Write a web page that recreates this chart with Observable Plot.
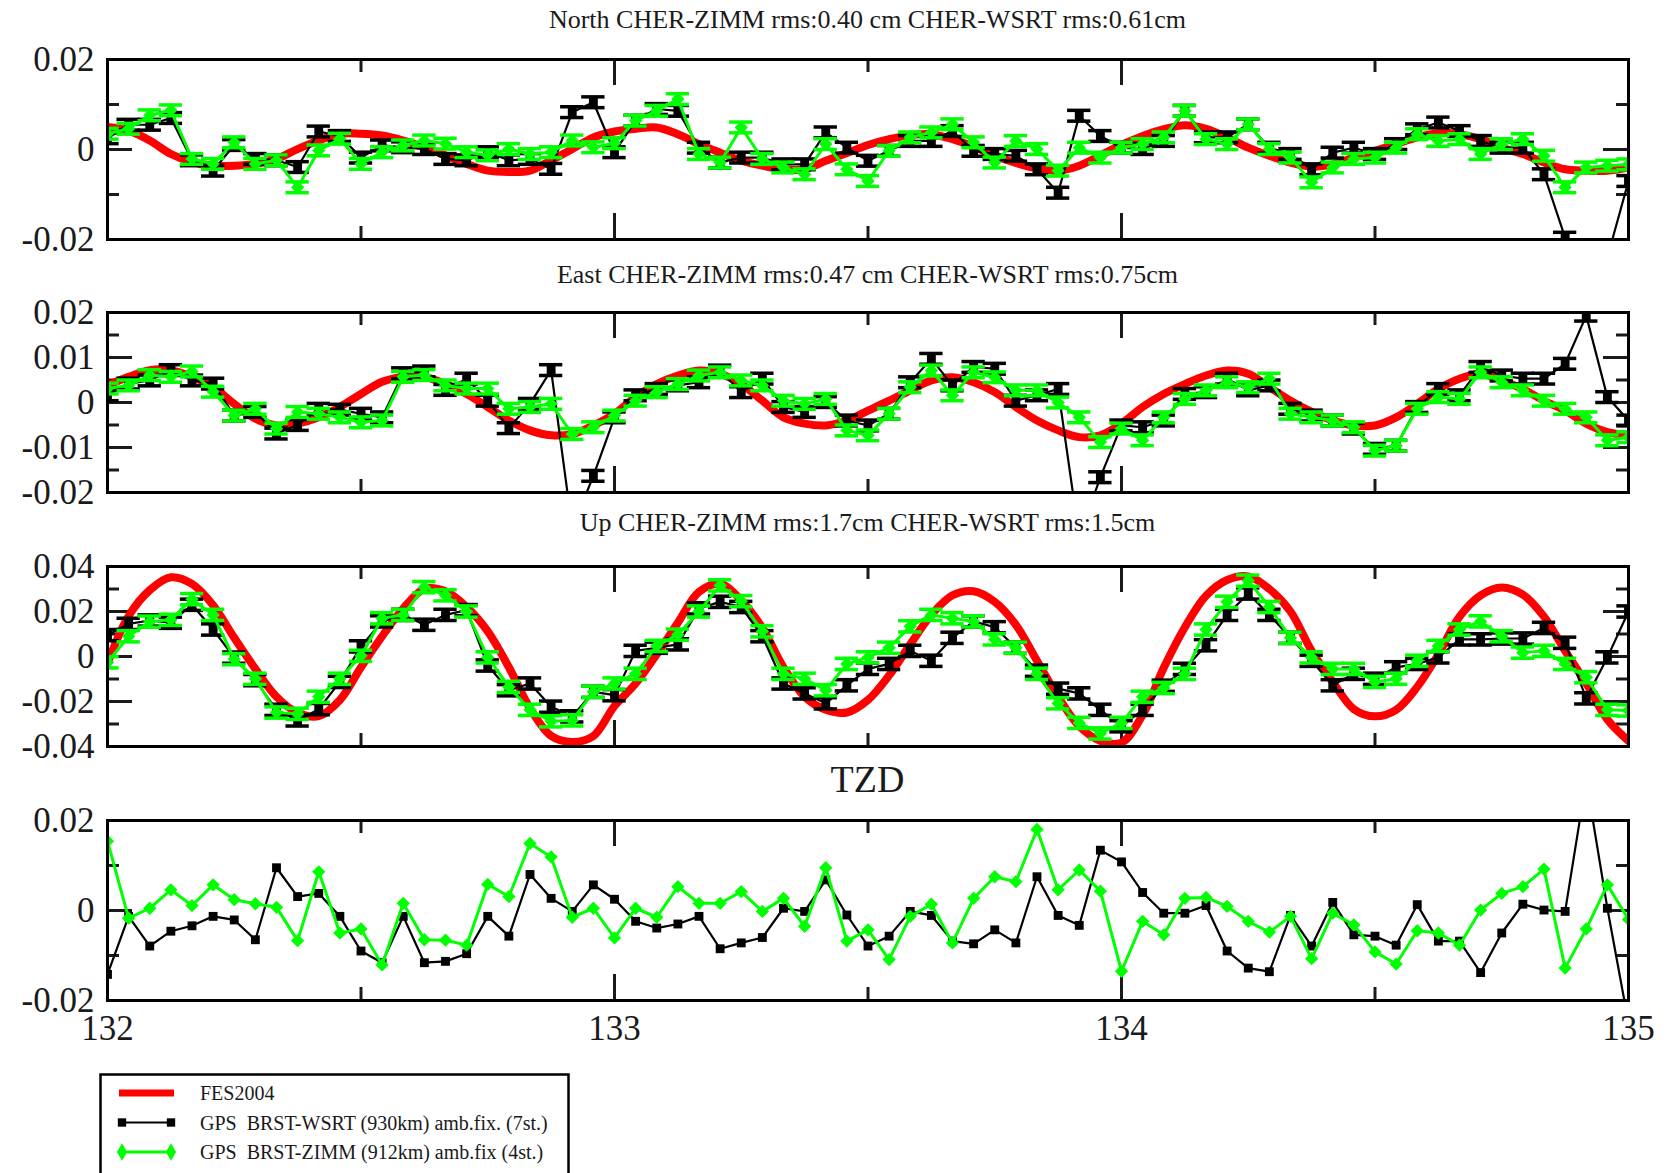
<!DOCTYPE html>
<html><head><meta charset="utf-8">
<script src="https://cdn.jsdelivr.net/npm/d3@7"></script>
<script src="https://cdn.jsdelivr.net/npm/@observablehq/plot@0.6"></script>
<style>
html,body{margin:0;padding:0;background:#fff;}
body{width:1671px;height:1173px;position:relative;overflow:hidden;font-family:"Liberation Serif","Times New Roman",serif;}
.title{position:absolute;left:107px;width:1521px;text-align:center;font-size:24px;line-height:1;color:#1a1a1a;white-space:nowrap;}
.panel{position:absolute;left:0;}
#legend{position:absolute;left:99px;top:1073px;}
</style></head><body>
<script>
// ---- time axis: hourly GPS epochs, day of year 132..135 ----
const startDay = 132, epochsPerDay = 24, nEpochs = 73;
const hours = d3.range(nEpochs).map(k => startDay + k / epochsPerDay);

// ---- values, in mm (converted to m when plotted) ----
// North
const northFES = [5.0,4.2,2.0,-1.0,-2.8,-3.6,-3.6,-3.2,-2.1,0.1,2.0,3.5,
  3.5,3.1,2.0,0.5,-1.3,-3.2,-4.7,-5.0,-4.7,-2.4,0.1,2.7,
  4.0,4.6,4.9,3.4,1.2,-0.7,-2.5,-3.6,-4.4,-4.4,-2.5,-0.8,
  1.0,2.3,3.2,3.4,2.3,0.6,-1.4,-3.0,-4.2,-4.7,-3.6,-1.3,
  1.0,3.0,4.5,5.4,4.6,2.7,0.4,-1.4,-2.9,-3.8,-3.3,-1.8,
  -0.3,1.2,2.7,3.6,3.4,2.3,0.4,-1.0,-2.9,-4.4,-4.7,-4.7,
  -4.0];
const northWSRT = [2.5,5.5,5.5,7.0,-2.4,-4.7,1.0,-2.1,-2.4,-3.9,4.0,3.0,
  -1.8,0.9,0.5,0.1,-2.1,-2.4,-0.6,-2.4,-2.1,-4.3,8.3,10.5,
  -0.6,6.4,9.0,8.6,0.4,-2.9,-1.8,-1.8,-3.3,-3.3,3.8,0.4,
  -2.5,-0.3,1.9,1.9,4.1,-0.3,-1.0,-1.4,-4.4,-9.6,7.5,3.0,
  0.4,0.1,1.9,8.6,2.7,2.7,5.6,0.4,-1.0,-4.4,-0.7,0.4,
  -1.0,1.2,4.5,6.0,4.1,1.9,0.4,0.4,-5.5,-19.6,-30,-24,
  -7];
const northZIMM = [3.5,4.6,7.6,8.7,-2.1,-3.2,1.6,-3.2,-2.4,-8.4,-0.2,2.4,
  -3.2,-0.6,0.9,2.0,1.3,-0.6,-1.3,0.1,-1.0,-0.6,2.0,0.5,
  1.4,6.4,8.6,11.2,-1.0,-2.9,4.9,-2.1,-4.0,-5.5,1.2,-4.4,
  -7.0,-0.3,2.7,3.8,5.6,1.6,-2.9,1.9,0.1,-4.7,0.4,-1.8,
  0.4,1.2,2.7,8.6,2.3,1.2,5.6,0.1,-1.8,-7.3,-4.0,-2.1,
  -1.8,0.4,3.4,1.9,2.3,-1.0,1.2,2.3,-1.4,-8.4,-4.0,-3.6,
  -3.3];
// East
const eastFES = [3.8,5.7,7.2,7.2,5.7,3.4,-0.3,-3.6,-5.1,-4.7,-3.3,-1.0,
  1.9,4.6,5.7,5.7,4.1,1.9,-1.0,-4.0,-6.2,-7.3,-7.0,-5.1,
  -2.5,1.2,4.1,6.0,7.1,6.4,4.1,0.4,-3.3,-4.7,-5.1,-4.0,
  -1.8,0.4,2.7,4.9,5.6,4.5,2.3,-1.0,-4.0,-6.2,-7.7,-7.3,
  -4.7,-1.0,1.9,4.1,6.0,7.1,6.4,3.4,0.4,-2.1,-4.0,-5.1,
  -5.1,-3.3,-0.3,3.0,5.3,6.4,4.9,3.0,0.4,-1.8,-4.7,-6.6,
  -7.3];
const eastWSRT = [1.6,4.2,4.9,7.2,4.9,4.2,-2.9,-2.1,-6.9,-5.0,-1.4,-1.6,
  -2.5,-3.3,6.5,6.9,2.8,5.3,0.4,-5.7,-0.3,7.2,-28,-16.3,
  -3.3,1.6,3.0,3.8,4.5,7.1,2.3,5.3,-1.0,-2.1,0.1,-4.0,
  -5.1,-2.5,4.5,9.7,3.8,7.9,7.5,0.4,1.6,3.0,-30,-16.6,
  -5.1,-5.5,-4.0,1.9,2.3,5.3,2.7,3.8,-1.4,-2.9,-4.0,-5.8,
  -10.3,-9.6,-1.0,3.0,1.6,7.9,6.0,5.3,5.3,8.6,19.3,1.2,
  -4.0];
const eastZIMM = [3.1,3.8,6.1,5.7,6.9,2.4,-2.9,-1.4,-5.8,-2.1,-2.5,-3.3,
  -4.4,-4.0,5.7,6.1,3.8,3.1,3.1,-1.4,-1.0,-0.3,-7.0,-5.5,
  -2.9,0.4,2.3,4.1,6.0,6.7,4.9,3.8,0.4,-0.3,0.8,-6.2,
  -7.3,-2.5,3.4,7.1,1.6,6.7,5.6,2.7,2.7,0.0,-3.3,-8.8,
  -5.8,-8.4,-3.3,0.8,2.7,4.5,3.4,5.3,-2.5,-3.3,-4.0,-5.5,
  -10.7,-9.6,-1.4,1.2,0.8,6.7,4.5,2.7,0.4,-1.4,-3.3,-8.4,
  -7.7];
// Up
const upFES = [-3,18,29.5,35.2,32.3,22.8,8.3,-5.5,-17.9,-25,-26.5,-19.3,
  -4.8,9,21.4,30,29,22,11.2,-4.8,-23,-35.3,-38,-35.3,
  -22,-12,1,15,28.7,32.3,25,12.7,-4.8,-17.9,-23.7,-24.9,
  -19.3,-8.4,5.4,18.5,27.2,29,24.3,14.1,-1.9,-17.9,-31,-37.5,
  -38.3,-26,-5,13,27,34,35.6,30,20,2.5,-11.3,-23.4,
  -26.6,-23.7,-13.5,1,17.7,27.2,30.7,27.5,17.7,2.5,-12,-28,
  -37.5];
const upWSRT = [9.5,14.5,16,15,23,12,-0.5,-10.5,-23.7,-28.4,-23.4,-11.3,
  4.5,15.6,18.5,14.1,18.5,20.6,-4,-15,-12,-22.3,-26.6,-15.7,
  -17.2,2.5,3.9,5.4,21.4,24.3,22,9,-12,-16.4,-20.8,-12.8,
  -5.5,-3.3,2.5,-1.9,8.3,15.6,13,3.9,-6.3,-14.3,-16.4,-23.7,
  -31,-23.7,-13,-5.5,5,18.5,28,18.5,8.3,-1.9,-12.8,-7.7,
  -9.9,-4.8,-3.3,-0.4,7.6,7.6,8,8,12.7,6.1,-18.6,-0.4,
  20];
const upZIMM = [-2.6,9,15.5,16.3,25.5,18.5,-1.2,-9.9,-24.9,-25.5,-17.9,-9.9,
  0.3,17,18.5,30.8,27.2,20,-0.4,-13.5,-23.7,-28.8,-28.4,-15.7,
  -12,-7.7,4.7,9.7,20,31.6,24.6,11.2,-7.7,-9.9,-15,-3.3,
  -0.4,3.9,13.4,18.5,17,15.6,7.6,3.9,-7.7,-20.8,-29.5,-34.2,
  -29.5,-17.9,-14,-7.7,12,24.3,33.7,22,8.3,-0.4,-5.5,-5.5,
  -11.3,-9.9,-1.9,4.7,12,15.6,9,1.7,2.5,-3.3,-9.2,-23.7,
  -24];
// TZD
const tzdWSRT = [-14.2,-1.3,-7.9,-4.6,-3.4,-1.3,-2.1,-6.5,9.5,3.1,3.8,-1.3,
  -9.0,-11.6,-1.3,-11.6,-11.3,-9.6,-1.3,-5.7,8.0,2.7,-0.2,5.7,
  2.5,-2.4,-3.9,-3.0,-1.3,-8.5,-7.2,-6.0,0.5,-0.2,6.8,-1.0,
  -7.9,-5.7,-0.2,-1.1,-6.8,-7.4,-4.3,-7.2,7.5,-1.1,-3.3,13.4,
  10.8,4.0,-0.6,-0.6,1.1,-9.0,-12.8,-13.6,-1.1,-7.9,1.8,-5.4,
  -5.7,-7.7,1.3,-6.8,-6.8,-13.8,-5.0,1.4,0.1,-0.2,29,0.5,
  -25];
const tzdZIMM = [15.4,-1.7,0.5,4.6,1.1,5.7,2.4,1.5,0.7,-6.7,8.6,-5.0,
  -4.1,-12.1,1.6,-6.5,-6.6,-7.7,5.8,3.1,14.9,11.9,-1.5,0.5,
  -6.1,0.5,-1.5,5.3,1.6,1.6,4.2,-0.2,2.7,-3.5,9.5,-6.8,
  -4.3,-10.9,-1.3,1.4,-7.2,2.7,7.5,6.4,18.0,4.6,9.0,4.3,
  -13.5,-2.4,-5.4,2.7,2.9,0.9,-2.4,-4.8,-1.3,-10.7,-0.6,-3.2,
  -9.2,-11.9,-4.5,-5.0,-7.7,0.1,3.8,5.3,9.2,-12.8,-4.1,5.7,
  -2.0];
// formal errors (m) read from error-bar heights
const northErr = 0.0012, eastErr = 0.0012, upErr = 0.0025;

// ---- labels ----
const titles = ["North CHER-ZIMM rms:0.40 cm CHER-WSRT rms:0.61cm",
  "East CHER-ZIMM rms:0.47 cm CHER-WSRT rms:0.75cm",
  "Up CHER-ZIMM rms:1.7cm CHER-WSRT rms:1.5cm",
  "TZD"];
const xTicks = [132, 133, 134, 135];
const xLabels = ["132", "133", "134", "135"];
const nTicks = [0.02, 0, -0.02], nLabels = ["0.02", "0", "-0.02"];
const eTicks = [0.02, 0.01, 0, -0.01, -0.02], eLabels = ["0.02", "0.01", "0", "-0.01", "-0.02"];
const uTicks = [0.04, 0.02, 0, -0.02, -0.04], uLabels = ["0.04", "0.02", "0", "-0.02", "-0.04"];
const tTicks = [0.02, 0, -0.02], tLabels = ["0.02", "0", "-0.02"];
const legendLabels = ["FES2004", "GPS  BRST-WSRT (930km) amb.fix. (7st.)", "GPS  BRST-ZIMM (912km) amb.fix (4st.)"];
const colors = {fes: "#ff0000", wsrt: "#000000", zimm: "#00ff00"};

// ---- layout ----
const W = 1671, ML = 107, MR = 43, FW = W - ML - MR, FH = 180;
const toM = v => v / 1000;

function panel(o) {
  const rows = hours.map((t, i) => ({
    t, fes: o.fes ? toM(o.fes[i]) : null, w: toM(o.w[i]), z: toM(o.z[i])
  }));
  const cap = 0.023; // half width of error-bar caps, days
  const marks = [];
  // inward frame ticks
  const major = o.major, minor = o.minor;
  marks.push(Plot.tickY(major, {y: d => d, insetRight: FW - 25, strokeWidth: 3}));
  marks.push(Plot.tickY(major, {y: d => d, insetLeft: FW - 25, strokeWidth: 3}));
  marks.push(Plot.tickY(minor, {y: d => d, insetRight: FW - 12, strokeWidth: 3}));
  marks.push(Plot.tickY(minor, {y: d => d, insetLeft: FW - 12, strokeWidth: 3}));
  marks.push(Plot.tickX([133, 134], {x: d => d, insetBottom: FH - 26, strokeWidth: 3}));
  marks.push(Plot.tickX([133, 134], {x: d => d, insetTop: FH - 26, strokeWidth: 3}));
  marks.push(Plot.tickX([132.5, 133.5, 134.5], {x: d => d, insetBottom: FH - 13, strokeWidth: 3}));
  marks.push(Plot.tickX([132.5, 133.5, 134.5], {x: d => d, insetTop: FH - 13, strokeWidth: 3}));
  if (o.fes) marks.push(Plot.line(rows, {x: "t", y: "fes", stroke: colors.fes, strokeWidth: 8, curve: "catmull-rom", clip: true}));
  const series = [["w", colors.wsrt, "square", 2.2], ["z", colors.zimm, "diamond2", 3]];
  for (const [k, c, sym, sw] of series) {
    if (o.err) {
      const e = o.err;
      marks.push(Plot.ruleX(rows, {x: "t", y1: d => d[k] - e, y2: d => d[k] + e, stroke: c, strokeWidth: 3, clip: true}));
      marks.push(Plot.ruleY(rows, {y: d => d[k] + e, x1: d => d.t - cap, x2: d => d.t + cap, stroke: c, strokeWidth: 3.5, clip: true}));
      marks.push(Plot.ruleY(rows, {y: d => d[k] - e, x1: d => d.t - cap, x2: d => d.t + cap, stroke: c, strokeWidth: 3.5, clip: true}));
    }
    marks.push(Plot.line(rows, {x: "t", y: k, stroke: c, strokeWidth: sw, clip: true}));
    marks.push(Plot.dot(rows, {x: "t", y: k, symbol: sym, r: sym === "square" ? 5 : 6, fill: c, stroke: "none", clip: true}));
  }
  marks.push(Plot.frame({stroke: "#000", strokeWidth: 3}));
  const mb = o.xAxis ? 62 : 10;
  const chart = Plot.plot({
    width: W, height: FH + 10 + mb,
    marginLeft: ML, marginRight: MR, marginTop: 10, marginBottom: mb,
    style: {fontFamily: "'Liberation Serif', serif", fontSize: "35px", color: "#1a1a1a", background: "white", overflow: "visible"},
    x: {domain: [132, 135], ticks: xTicks, tickFormat: (d, i) => xLabels[xTicks.indexOf(d)], tickSize: 0, tickPadding: 15, label: null, axis: o.xAxis ? "bottom" : null},
    y: {domain: o.domain, ticks: o.ticks, tickFormat: d => o.labels[o.ticks.indexOf(d)], tickSize: 0, tickPadding: 13, label: null},
    marks
  });
  chart.classList.add("panel");
  chart.style.top = (o.top - 10) + "px";
  chart.style.position = "absolute";
  chart.style.left = "0px";
  document.body.appendChild(chart);
}

function title(text, centerY, size) {
  const d = document.createElement("div");
  d.className = "title";
  d.textContent = text;
  d.style.fontSize = size + "px";
  d.style.top = (centerY - size * 0.55) + "px";
  document.body.appendChild(d);
}

title(titles[0], 21, 26);
panel({fes: northFES, w: northWSRT, z: northZIMM, err: northErr, domain: [-0.02, 0.02], ticks: nTicks, labels: nLabels,
  major: [0], minor: [0.01, -0.01], top: 58.5});
title(titles[1], 276, 26);
panel({fes: eastFES, w: eastWSRT, z: eastZIMM, err: eastErr, domain: [-0.02, 0.02], ticks: eTicks, labels: eLabels,
  major: [0.01, 0, -0.01], minor: [0.015, 0.005, -0.005, -0.015], top: 312});
title(titles[2], 524, 26);
panel({fes: upFES, w: upWSRT, z: upZIMM, err: upErr, domain: [-0.04, 0.04], ticks: uTicks, labels: uLabels,
  major: [0.02, 0, -0.02], minor: [0.03, 0.01, -0.01, -0.03], top: 566});
title(titles[3], 781, 38);
panel({fes: null, w: tzdWSRT, z: tzdZIMM, err: 0, domain: [-0.02, 0.02], ticks: tTicks, labels: tLabels,
  major: [0], minor: [0.01, -0.01], top: 820, xAxis: true});

// ---- legend ----
const lg = d3.select("body").append("svg").attr("id", "legend").attr("width", 472).attr("height", 102);
lg.append("rect").attr("x", 1.5).attr("y", 1.5).attr("width", 468).attr("height", 110).attr("fill", "white").attr("stroke", "#000").attr("stroke-width", 2.5);
const entries = [
  {label: legendLabels[0], color: colors.fes, w: 7, sym: null},
  {label: legendLabels[1], color: colors.wsrt, w: 2.2, sym: "square"},
  {label: legendLabels[2], color: colors.zimm, w: 3, sym: "diamond"}
];
entries.forEach((e, i) => {
  const y = 20 + i * 29.5;
  lg.append("line").attr("x1", 20).attr("x2", 75).attr("y1", y).attr("y2", y).attr("stroke", e.color).attr("stroke-width", e.w);
  if (e.sym) {
    const s = d3.symbol(e.sym === "square" ? d3.symbolSquare : d3.symbolDiamond, e.sym === "square" ? 70 : 90);
    for (const x of [23, 72]) lg.append("path").attr("d", s()).attr("transform", `translate(${x},${y})`).attr("fill", e.color);
  }
  lg.append("text").attr("x", 101).attr("y", y).attr("dy", "0.35em").attr("font-family", "'Liberation Serif', serif").attr("font-size", 20).attr("fill", "#1a1a1a").attr("xml:space", "preserve").text(e.label);
});
</script>
</body></html>
